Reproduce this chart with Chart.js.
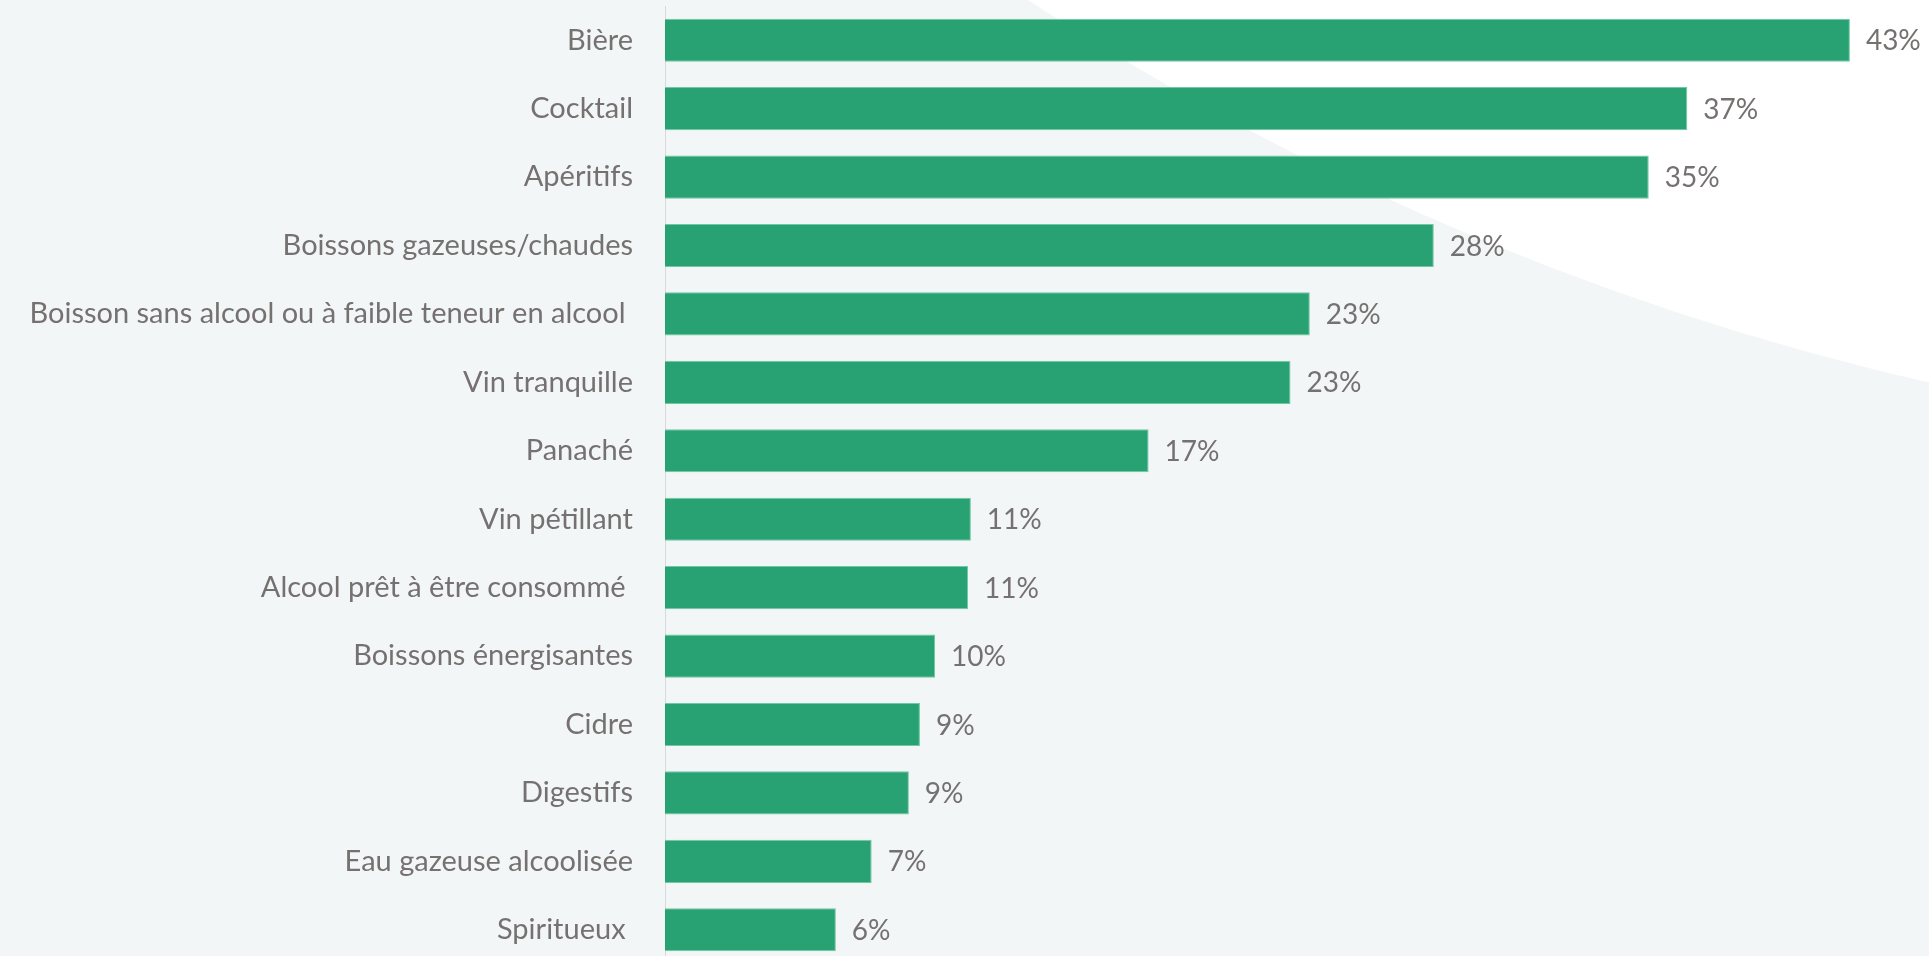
<!DOCTYPE html>
<html>
<head>
<meta charset="utf-8">
<script src="https://cdn.jsdelivr.net/npm/chart.js@4.4.1/dist/chart.umd.min.js"></script>
<style>
  html, body { margin: 0; padding: 0; overflow: hidden; background: #f3f6f7; }
  #wrap { position: absolute; left: 0; top: 0; width: 1929px; height: 964px; }
</style>
</head>
<body>
<div id="wrap"><canvas id="c"></canvas></div>
<script>
// ---- data ----
const categories = [
  "Bière",
  "Cocktail",
  "Apéritifs",
  "Boissons gazeuses/chaudes",
  "Boisson sans alcool ou à faible teneur en alcool ",
  "Vin tranquille",
  "Panaché",
  "Vin pétillant",
  "Alcool prêt à être consommé ",
  "Boissons énergisantes",
  "Cidre",
  "Digestifs",
  "Eau gazeuse alcoolisée",
  "Spiritueux "
];
const values = [43.0, 37.1, 35.7, 27.9, 23.4, 22.7, 17.55, 11.1, 11.0, 9.8, 9.25, 8.85, 7.5, 6.2];
const valueLabels = ["43%", "37%", "35%", "28%", "23%", "23%", "17%", "11%", "11%", "10%", "9%", "9%", "7%", "6%"];

const TEXT = '#767171';
const FONT_FAMILY = 'Lato, "Open Sans", sans-serif';

const backgroundPlugin = {
  id: 'bg',
  beforeDraw(chart) {
    const ctx = chart.ctx;
    ctx.save();
    ctx.fillStyle = '#f3f6f7';
    ctx.fillRect(0, 0, chart.width, chart.height);
    ctx.fillStyle = '#ffffff';
    ctx.beginPath();
    ctx.arc(2546, -2323, 2775, 0, Math.PI * 2);
    ctx.fill();
    ctx.restore();
  }
};

const valueLabelPlugin = {
  id: 'valueLabels',
  afterDatasetsDraw(chart) {
    const ctx = chart.ctx;
    const meta = chart.getDatasetMeta(0);
    ctx.save();
    ctx.fillStyle = TEXT;
    ctx.font = '28px ' + FONT_FAMILY;
    ctx.textAlign = 'left';
    ctx.textBaseline = 'middle';
    meta.data.forEach((bar, i) => {
      ctx.fillText(valueLabels[i], bar.x + 16, bar.y + 1);
    });
    ctx.restore();
  }
};

function make() {
  new Chart(document.getElementById('c'), {
    type: 'bar',
    data: {
      labels: categories,
      datasets: [{
        data: values,
        backgroundColor: '#28a173',
        borderColor: '#6fc9a4',
        borderWidth: 1,
        categoryPercentage: 1,
        barPercentage: 0.63
      }]
    },
    options: {
      indexAxis: 'y',
      responsive: true,
      maintainAspectRatio: false,
      animation: false,
      layout: { padding: { top: 6, right: 24, bottom: 0, left: 0 } },
      plugins: { legend: { display: false }, tooltip: { enabled: false } },
      scales: {
        x: { display: false, min: 0, max: 45 },
        y: {
          afterFit(scale) {
            scale.width = 665;
            scale.paddingTop = 0;
            scale.paddingBottom = 0;
          },
          grid: { display: false, drawTicks: false },
          border: { display: true, color: '#d9d9d9', width: 1 },
          ticks: {
            color: TEXT,
            padding: 32,
            font: { family: FONT_FAMILY, size: 29 }
          }
        }
      }
    },
    plugins: [backgroundPlugin, valueLabelPlugin]
  });
}
if (document.fonts && document.fonts.load) {
  document.fonts.load('29px Lato').then(make, make);
} else { make(); }
</script>
</body>
</html>
